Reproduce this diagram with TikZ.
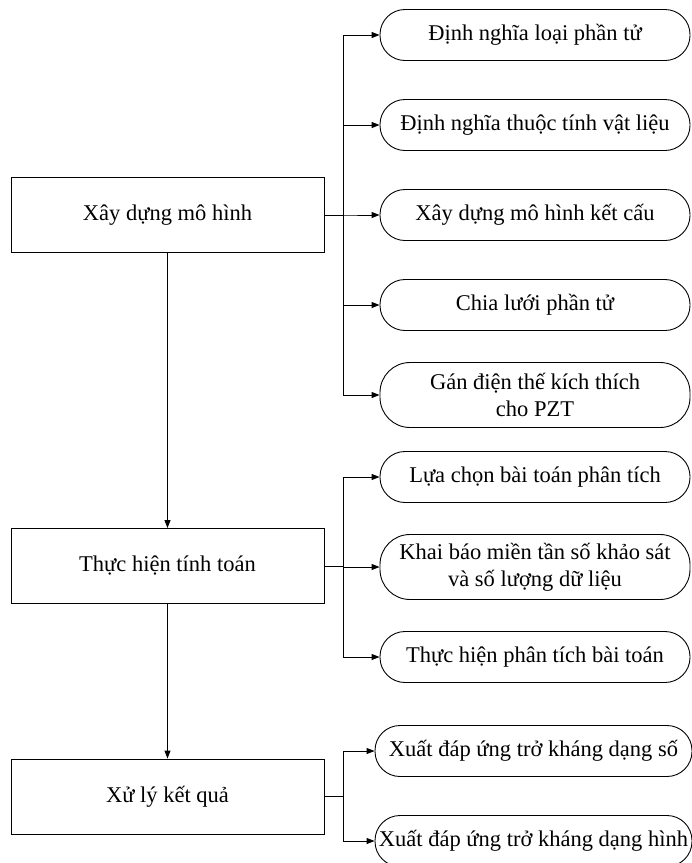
\documentclass[tikz,border=0pt]{standalone}
\usepackage{fontspec}
\setmainfont{Liberation Serif}
\usetikzlibrary{arrows.meta,positioning}

\begin{document}
\begin{tikzpicture}[
            x=1pt, y=1pt,
            node distance=90pt,
            font=\fontsize{22.5}{27}\selectfont,
            % Kiểu khối
            mainstep/.style={rectangle, minimum width=313pt, minimum height=75pt, text centered, draw=black, line width=0.9pt},
            substep/.style={rectangle, rounded corners=25pt, minimum width=310pt, minimum height=51pt, inner xsep=3pt, align=center, draw=black, line width=0.9pt},
            arrow/.style={line width=0.9pt,-{Triangle[length=8pt,width=6pt]}}
        ]
        \useasboundingbox (0,0) rectangle (692,-863);

        % Khối chính
        \node (build) [mainstep] at (167.5,-215) {Xây dựng mô hình};
        \node (compute) [mainstep] at (167.5,-566) {Thực hiện tính toán};
        \node (result) [mainstep] at (167.5,-796.5) {Xử lý kết quả};

        % Nhánh xây dựng mô hình
        \node (elem) [substep] at (535,-35) {Định nghĩa loại phần tử};
        \node (mat) [substep, below of=elem] {Định nghĩa thuộc tính vật liệu};
        \node (geom) [substep, below of=mat] {Xây dựng mô hình kết cấu};
        \node (mesh) [substep, below of=geom] {Chia lưới phần tử};
        \node (volt) [substep, below of=mesh, minimum height=65pt, rounded corners=30pt] {Gán điện thế kích thích\\cho PZT};

        % Nhánh tính toán
        \node (type) [substep] at (535,-477) {Lựa chọn bài toán phân tích};
        \node (freq) [substep, below of=type, minimum height=65pt, rounded corners=30pt] {Khai báo miền tần số khảo sát\\và số lượng dữ liệu};
        \node (solve) [substep, below of=freq] {Thực hiện phân tích bài toán};

        % Nhánh kết quả
        \node (num) [substep, minimum width=317pt] at (533.5,-751) {Xuất đáp ứng trở kháng dạng số};
        \node (plot) [substep, minimum width=317pt, below of=num] {Xuất đáp ứng trở kháng dạng hình};

        % Mũi tên chính
        \draw [arrow] (build) -- (compute);
        \draw [arrow] (compute) -- (result);

        % Mũi tên nhánh
        \foreach \dst in {elem,mat,geom,mesh,volt}
            \draw [arrow] (build.east) -- ++(19,0) |- (\dst.west);
        \foreach \dst in {type,freq,solve}
            \draw [arrow] (compute.east) -- ++(19,0) |- (\dst.west);
        \foreach \dst in {num,plot}
            \draw [arrow] (result.east) -- ++(19,0) |- (\dst.west);

    \end{tikzpicture}
\end{document}
